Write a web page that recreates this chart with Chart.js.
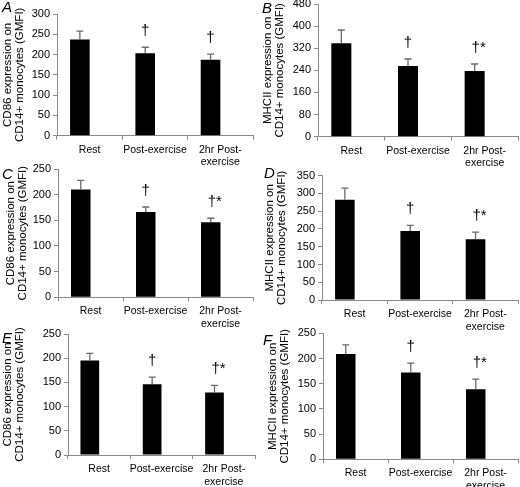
<!DOCTYPE html>
<html><head><meta charset="utf-8">
<script src="https://cdn.jsdelivr.net/npm/chart.js@4"></script>
<style>
html,body{margin:0;padding:0;background:#fff;width:520px;height:487px;overflow:hidden;position:relative;font-family:'Liberation Sans',Arial,sans-serif}
canvas{position:absolute}
.lbl{position:absolute;font-style:italic;font-size:15px;color:#000;line-height:1}
</style></head><body>
<div id="wrap"></div>
<script>
// ---- data ----
const categories = [['Rest'], ['Post-exercise'], ['2hr Post-', 'exercise']];
const titleCD86 = ['CD86 expression on', 'CD14+ monocytes (GMFI)'];
const titleMHCII = ['MHCII expression on', 'CD14+ monocytes (GMFI)'];

const meanA = [237, 203, 187];
const semA  = [21, 15, 14];
const meanB = [338, 256, 238];
const semB  = [48, 25, 25];
const meanC = [210, 166, 146];
const semC  = [18, 10, 8];
const meanD = [282, 194, 171];
const semD  = [33, 16, 20];
const meanE = [195, 146, 129];
const semE  = [15, 15, 15];
const meanF = [209, 172, 139];
const semF  = [18, 19, 20];

const sigA = ['', '†', '†'];
const sigB = ['', '†', '†*'];
const sigC = ['', '†', '†*'];
const sigD = ['', '†', '†*'];
const sigE = ['', '†', '†*'];
const sigF = ['', '†', '†*'];

const yMaxA = 300, yStepA = 50;
const yMaxB = 480, yStepB = 80;
const yMaxC = 250, yStepC = 50;
const yMaxD = 350, yStepD = 50;
const yMaxE = 250, yStepE = 50;
const yMaxF = 250, yStepF = 50;

// ---- panels ----
const panels = [
  {letter:'A', mean:meanA, sem:semA, sig:sigA, title:titleCD86, max:yMaxA, step:yStepA,
   box:{left:0, top:0, w:258, h:170, axisX:57, topY:14, zeroY:135.7, rightX:253}, lp:{x:2, y:-1}},
  {letter:'B', mean:meanB, sem:semB, sig:sigB, title:titleMHCII, max:yMaxB, step:yStepB,
   box:{left:260, top:-8, w:260, h:178, axisX:318, topY:4, zeroY:136.7, rightX:518}, lp:{x:262, y:0}},
  {letter:'C', mean:meanC, sem:semC, sig:sigC, title:titleCD86, max:yMaxC, step:yStepC,
   box:{left:3, top:158, w:255, h:172, axisX:58, topY:169, zeroY:297.3, rightX:253}, lp:{x:2, y:166}},
  {letter:'D', mean:meanD, sem:semD, sig:sigD, title:titleMHCII, max:yMaxD, step:yStepD,
   box:{left:262, top:162, w:258, h:170, axisX:322, topY:175.7, zeroY:300, rightX:518}, lp:{x:264, y:165}},
  {letter:'E', mean:meanE, sem:semE, sig:sigE, title:titleCD86, max:yMaxE, step:yStepE,
   box:{left:0, top:320, w:258, h:167, axisX:68, topY:334, zeroY:455, rightX:255}, lp:{x:2, y:330}},
  {letter:'F', mean:meanF, sem:semF, sig:sigF, title:titleMHCII, max:yMaxF, step:yStepF,
   box:{left:265, top:320, w:255, h:167, axisX:323, topY:333.3, zeroY:459.3, rightX:518}, lp:{x:263, y:332}}
];

const FONT = "'Liberation Sans', Arial, sans-serif";
const AXIS = '#8a8a8a';

const errorPlugin = {
  id: 'errs',
  afterDatasetsDraw(chart) {
    const p = chart.options.plugins.errs;
    const meta = chart.getDatasetMeta(0);
    const ys = chart.scales.y;
    const ctx = chart.ctx;
    ctx.save();
    meta.data.forEach((bar, i) => {
      const x = bar.x;
      const top = ys.getPixelForValue(p.mean[i] + p.sem[i]);
      ctx.strokeStyle = '#6a6a6a';
      ctx.lineWidth = 1.3;
      ctx.beginPath();
      ctx.moveTo(x, bar.y);
      ctx.lineTo(x, top);
      ctx.moveTo(x - 3.5, top);
      ctx.lineTo(x + 3.5, top);
      ctx.stroke();
      if (p.sig[i]) {
        ctx.fillStyle = '#000';
        ctx.font = '15px ' + FONT;
        ctx.textAlign = 'center';
        ctx.textBaseline = 'bottom';
        ctx.fillText(p.sig[i], x + (p.sig[i].length > 1 ? 4 : 0), top - 9);
      }
    });
    ctx.restore();
  }
};

const wrap = document.getElementById('wrap');
panels.forEach(pn => {
  const b = pn.box;
  const cv = document.createElement('canvas');
  cv.width = b.w; cv.height = b.h;
  cv.style.left = b.left + 'px'; cv.style.top = b.top + 'px';
  cv.style.width = b.w + 'px'; cv.style.height = b.h + 'px';
  wrap.appendChild(cv);
  const lb = document.createElement('div');
  lb.className = 'lbl'; lb.textContent = pn.letter;
  lb.style.left = pn.lp.x + 'px'; lb.style.top = pn.lp.y + 'px';
  wrap.appendChild(lb);

  new Chart(cv, {
    type: 'bar',
    data: {
      labels: categories,
      datasets: [
        {data: pn.mean, backgroundColor: '#000', borderWidth: 0},
        {data: pn.mean.map(() => null), backgroundColor: '#000'}
      ]
    },
    options: {
      responsive: false, animation: false, devicePixelRatio: 1,
      layout: {padding: {left: 0, top: b.topY - b.top, right: b.left + b.w - b.rightX, bottom: 0}},
      datasets: {bar: {categoryPercentage: 0.6, barPercentage: 1.0}},
      plugins: {legend: {display: false}, tooltip: {enabled: false},
        errs: {mean: pn.mean, sem: pn.sem, sig: pn.sig}},
      scales: {
        x: {
          grid: {display: true, drawOnChartArea: false, drawTicks: true, tickLength: 4, color: AXIS, offset: true},
          border: {display: true, color: AXIS, width: 1},
          ticks: {color: '#000', font: {family: FONT, size: 10.5}, padding: 4, maxRotation: 0, autoSkip: false},
          afterFit(s) { s.height = b.top + b.h - b.zeroY; }
        },
        y: {
          min: 0, max: pn.max,
          grid: {display: true, drawOnChartArea: false, drawTicks: true, tickLength: 4, color: AXIS},
          border: {display: true, color: AXIS, width: 1},
          ticks: {stepSize: pn.step, color: '#000', font: {family: FONT, size: 11}, padding: 3},
          title: {display: true, text: pn.title, color: '#000', font: {family: FONT, size: 11.5, lineHeight: 1.08}, padding: {top: 1.5, bottom: 0}},
          afterFit(s) { s.width = b.axisX - b.left; }
        }
      }
    },
    plugins: [errorPlugin]
  });
});
</script>
</body></html>
